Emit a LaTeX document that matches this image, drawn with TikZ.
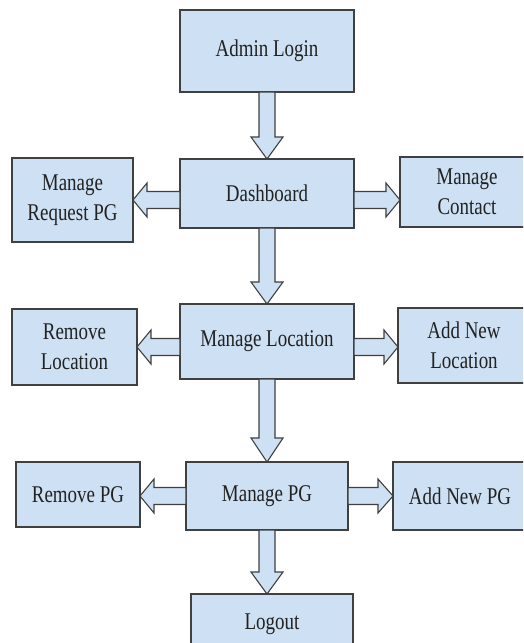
\documentclass[tikz,border=0pt]{standalone}
\usepackage{fontspec}
\setmainfont{Liberation Serif}[FakeStretch=0.79]
\usetikzlibrary{calc, positioning}
\definecolor{boxblue}{RGB}{206, 224, 243}
\definecolor{edgegray}{RGB}{64, 64, 64}
\definecolor{textdark}{RGB}{34, 34, 34}

% hollow block arrow: from, to, shaft half width, head half width, head length
\newcommand{\blockarrow}[5]{%
  \coordinate (hb) at ($(#2)!#5!(#1)$);
  \filldraw[arrowbody] ($(#1)!#3!90:(#2)$) -- ($(hb)!#3!90:(#2)$)
    -- ($(hb)!#4!90:(#2)$) -- (#2) -- ($(hb)!#4!-90:(#2)$)
    -- ($(hb)!#3!-90:(#2)$) -- ($(#1)!#3!-90:(#2)$) -- cycle;
}

\begin{document}
\begin{tikzpicture}[x=1pt, y=-1pt,
    box/.style={draw=edgegray, fill=boxblue, line width=1.2pt, inner sep=0pt,
      outer sep=0pt, align=center, text=textdark,
      font=\fontsize{24}{30}\selectfont},
    arrowbody/.style={draw=edgegray, fill=boxblue, line width=1.1pt, line join=miter}]
\useasboundingbox (0,0) rectangle (523,643);
\fill[white] (0,0) rectangle (523,643);
\clip (0,0) rectangle (523,643);

% Main column
\node[box, minimum width=174pt, minimum height=82pt] (login) at (267,51) {Admin Login};
\node[box, minimum width=174pt, minimum height=69pt] (dash) at (267,193.5) {Dashboard};
\node[box, minimum width=174pt, minimum height=75pt] (mloc) at (267,341.5) {Manage Location};
\node[box, minimum width=162pt, minimum height=68pt] (mpg) at (267,496) {Manage PG};
\node[box, minimum width=162pt, minimum height=60pt] (logout) at (272,624) {Logout};

% Side boxes
\node[box, minimum width=121pt, minimum height=84pt] (mreq) at (72.5,200) {Manage\\Request PG};
\node[box, minimum width=134pt, minimum height=70pt] (mcont) at (467,192) {Manage\\Contact};
\node[box, minimum width=125pt, minimum height=76pt] (rloc) at (74.5,347) {Remove\\Location};
\node[box, minimum width=132pt, minimum height=75pt] (aloc) at (464,345.5) {Add New\\Location};
\node[box, minimum width=124pt, minimum height=65pt] (rpg) at (78,494.5) {Remove PG};
\node[box, minimum width=134pt, minimum height=68pt] (apg) at (460,496) {Add New PG};

% Arrow end points
\coordinate (dashl) at (dash.west |- mreq.east);
\coordinate (dashr) at (dash.east |- mreq.east);
\coordinate (conth) at (mcont.west |- mreq.east);
\coordinate (locl) at (mloc.west |- rloc.east);
\coordinate (locr) at (mloc.east |- rloc.east);
\coordinate (alocin) at (aloc.west |- rloc.east);
\coordinate (pgl) at (mpg.west);
\coordinate (rpgin) at (rpg.east |- mpg.west);
\coordinate (pgr) at (mpg.east);
\coordinate (apgin) at (apg.west |- mpg.east);
\coordinate (outin) at (mpg.south |- logout.north);

% Down arrows
\blockarrow{login.south}{dash.north}{8pt}{16pt}{22pt}
\blockarrow{dash.south}{mloc.north}{8pt}{16pt}{22pt}
\blockarrow{mloc.south}{mpg.north}{8pt}{16pt}{24pt}
\blockarrow{mpg.south}{outin}{8pt}{16pt}{22pt}

% Side arrows
\blockarrow{dashl}{mreq.east}{8.5pt}{17pt}{14pt}
\blockarrow{dashr}{conth}{8.5pt}{17pt}{14pt}
\blockarrow{locl}{rloc.east}{8.5pt}{17pt}{14pt}
\blockarrow{locr}{alocin}{8.5pt}{17pt}{14pt}
\blockarrow{pgl}{rpgin}{8.5pt}{17pt}{14pt}
\blockarrow{pgr}{apgin}{8.5pt}{17pt}{15pt}
\end{tikzpicture}
\end{document}
